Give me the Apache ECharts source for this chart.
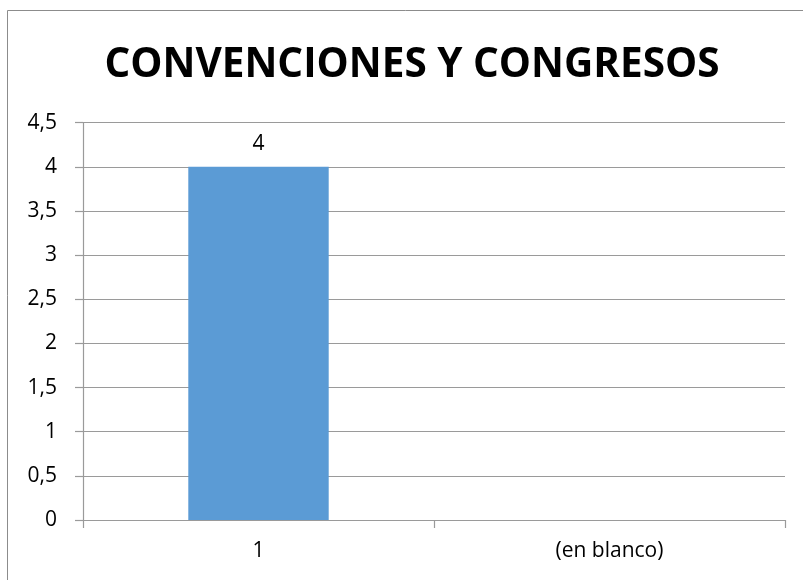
<!DOCTYPE html>
<html><head><meta charset="utf-8">
<script src="https://cdn.jsdelivr.net/npm/echarts@6/dist/echarts.min.js"></script>
<style>html,body{margin:0;padding:0;background:#fff}#c{width:803px;height:580px}</style>
</head><body><div id="c"></div>
<script>
const titleText = 'CONVENCIONES Y CONGRESOS';
const categories = ['1', '(en blanco)'];
const values = [4, null];
const yMin = 0, yMax = 4.5, yStep = 0.5;

const chart = echarts.init(document.getElementById('c'), null, {renderer: 'canvas'});
chart.setOption({
  animation: false,
  backgroundColor: '#fff',
  title: {
    text: titleText, left: 412, top: 45, padding: 0, textAlign: 'center',
    textStyle: {fontFamily: 'Open Sans', fontWeight: 'bold', fontSize: 40.5, color: '#000'}
  },
  graphic: [{
    type: 'rect', shape: {x: 7.5, y: 10.5, width: 820, height: 600},
    style: {fill: 'none', stroke: '#8c8c8c', lineWidth: 1}, silent: true, z: -1
  }],
  grid: {left: 83, right: 18, top: 122.7, bottom: 60, containLabel: false},
  xAxis: {
    type: 'category', data: categories,
    axisLine: {lineStyle: {color: '#9a9a9a', width: 1.2}},
    axisTick: {show: true, length: 8, lineStyle: {color: '#9a9a9a', width: 1.2}},
    axisLabel: {fontFamily: 'Open Sans', fontSize: 21, color: '#000', margin: 21}
  },
  yAxis: {
    type: 'value', min: yMin, max: yMax, interval: yStep,
    axisLine: {show: true, lineStyle: {color: '#9a9a9a', width: 1.2}},
    axisTick: {show: true, length: 8, lineStyle: {color: '#9a9a9a', width: 1.2}},
    splitLine: {lineStyle: {color: '#9a9a9a', width: 1.2}},
    axisLabel: {fontFamily: 'Open Sans', fontSize: 21, color: '#000', margin: 26,
      formatter: v => String(v).replace('.', ',')}
  },
  series: [{
    type: 'bar', data: values, barWidth: '40%',
    itemStyle: {color: '#5b9bd5'},
    label: {show: true, position: 'top', distance: 12, fontFamily: 'Open Sans', fontSize: 21, color: '#000'}
  }]
});
</script></body></html>
